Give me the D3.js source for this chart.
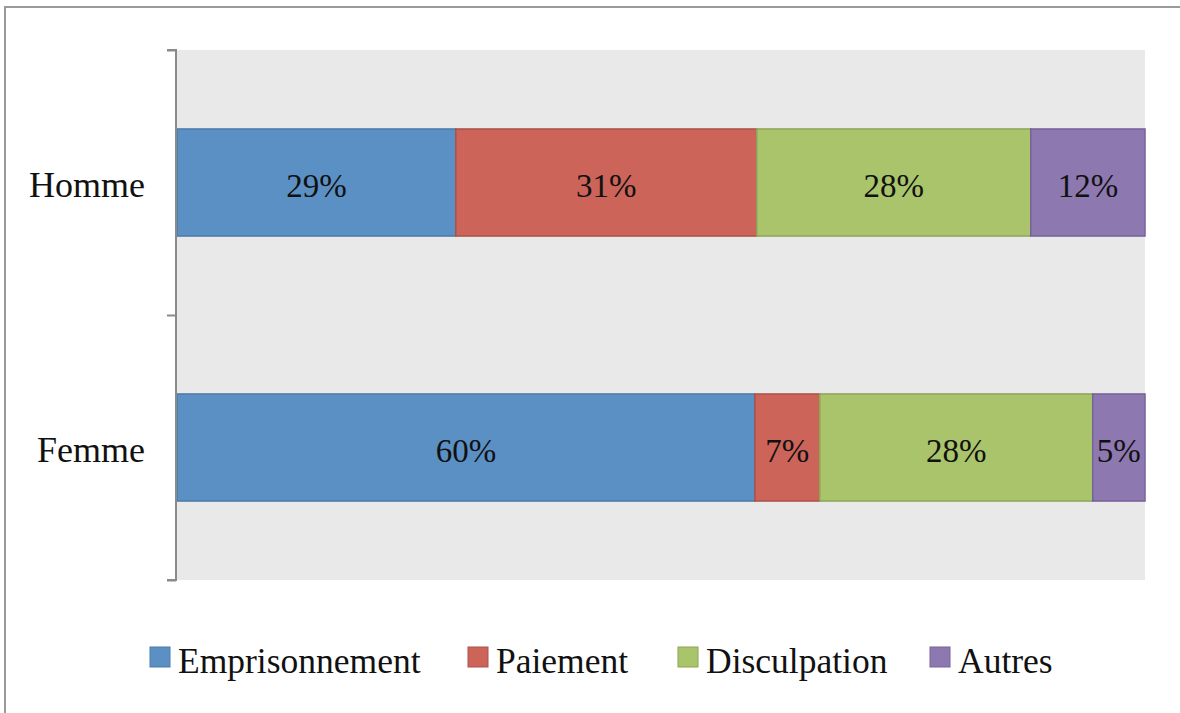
<!DOCTYPE html>
<html><head><meta charset="utf-8">
<script src="https://cdn.jsdelivr.net/npm/d3@7/dist/d3.min.js"></script>
<style>body{margin:0;background:#fff}svg{display:block}</style>
</head><body>
<svg id="c" width="1180" height="713"></svg>
<script>
const categories = ["Homme", "Femme"];
const seriesNames = ["Emprisonnement", "Paiement", "Disculpation", "Autres"];
const emprisonnement = [28.8, 59.7];
const paiement = [31.1, 6.7];
const disculpation = [28.3, 28.2];
const autres = [11.8, 5.4];
const colors = ["#5b90c5", "#cc645a", "#a9c46b", "#8e78b0"];
const strokes = ["#4c7aaa", "#a9524a", "#8ea458", "#76639a"];

const svg = d3.select("#c");
const plot = {x0: 177, x1: 1145, y0: 50, y1: 580};
const serif = "'Liberation Serif', 'Times New Roman', serif";

// outer frame
svg.append("rect").attr("x", 5).attr("y", 7).attr("width", 1200).attr("height", 800)
  .attr("fill", "none").attr("stroke", "#9a9a9a").attr("stroke-width", 2);

const rows = categories.map((c, i) => ({cat: c, Emprisonnement: emprisonnement[i], Paiement: paiement[i], Disculpation: disculpation[i], Autres: autres[i]}));
const stack = d3.stack().keys(seriesNames)(rows);

const x = d3.scaleLinear().domain([0, 100]).range([plot.x0, plot.x1]);
const y = d3.scaleBand().domain(categories).range([plot.y0, plot.y1]).paddingInner(0.596).paddingOuter(0.298);

svg.append("rect").attr("x", plot.x0).attr("y", plot.y0).attr("width", plot.x1 - plot.x0).attr("height", plot.y1 - plot.y0).attr("fill", "#e9e9e9");

const g = svg.append("g");
stack.forEach((s, si) => {
  g.selectAll(null).data(s).enter().append("rect")
    .attr("x", d => x(d[0])).attr("width", d => x(d[1]) - x(d[0]))
    .attr("y", d => y(d.data.cat)).attr("height", y.bandwidth())
    .attr("fill", colors[si]).attr("stroke", strokes[si]).attr("stroke-width", 1.5);
  g.selectAll(null).data(s).enter().append("text")
    .attr("x", d => (x(d[0]) + x(d[1])) / 2)
    .attr("y", d => y(d.data.cat) + y.bandwidth() / 2 + 14)
    .attr("text-anchor", "middle")
    .attr("font-family", serif)
    .attr("font-size", 33).attr("fill", "#111")
    .text(d => Math.round(d[1] - d[0]) + "%");
});

// left axis
const ax = svg.append("g").attr("transform", `translate(${plot.x0 - 1},0)`);
const axisScale = d3.scaleLinear().domain([0, 2]).range([plot.y0, plot.y1]);
ax.call(d3.axisLeft(axisScale).tickValues([0, 1, 2]).tickSize(9).tickFormat(""));
ax.selectAll("path,line").attr("stroke", "#8a8a8a").attr("stroke-width", 2);
ax.select(".domain").attr("d", `M-9,${plot.y0}H0V${plot.y1}H-9`);

// category labels
svg.selectAll(null).data(categories).enter().append("text")
  .attr("x", 145).attr("y", d => y(d) + y.bandwidth() / 2 + 14)
  .attr("text-anchor", "end")
  .attr("font-family", serif)
  .attr("font-size", 36).attr("fill", "#111").text(d => d);

// legend
const legX = [150, 468, 678, 930];
const leg = svg.selectAll(null).data(seriesNames).enter().append("g")
  .attr("transform", (d, i) => `translate(${legX[i]},647)`);
leg.append("rect").attr("width", 20).attr("height", 20)
  .attr("fill", (d, i) => colors[i]).attr("stroke", (d, i) => strokes[i]).attr("stroke-width", 1);
leg.append("text").attr("x", 28).attr("y", 26)
  .attr("font-family", serif)
  .attr("font-size", 35.5).attr("fill", "#111").text(d => d);
</script>
</body></html>
